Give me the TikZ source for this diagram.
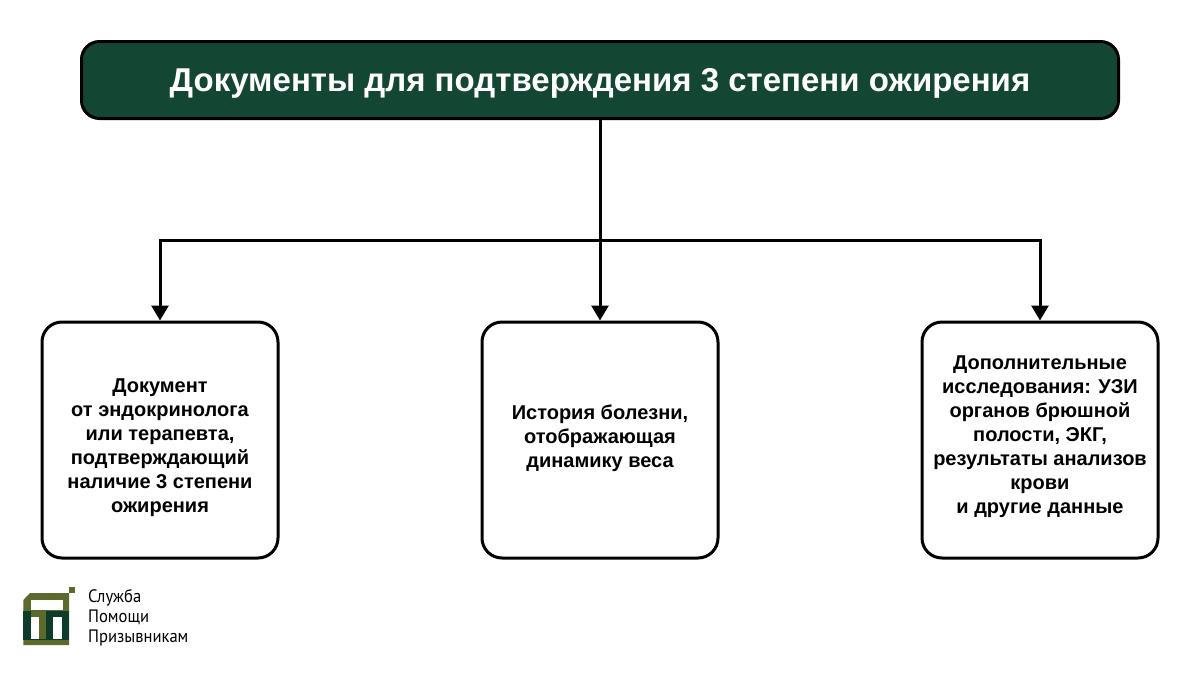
\documentclass[tikz,border=0pt]{standalone}
\usepackage{fontspec}
\setmainfont{Liberation Sans}
\newfontfamily\logofont[FakeStretch=0.92]{PT Sans}
\usetikzlibrary{arrows.meta}
\definecolor{titlegreen}{HTML}{134633}
\definecolor{logodark}{HTML}{0F3B2B}
\definecolor{logoolive}{HTML}{5A6B2C}
\tikzset{
  x=1pt,y=-1pt,
  titlebox/.style={draw=black,line width=3pt,fill=titlegreen,rounded corners=18pt,minimum width=1037pt,minimum height=77pt,inner sep=0pt},
  titletext/.style={inner sep=0pt,text=white,font=\fontsize{33}{38}\selectfont\bfseries},
  docbox/.style={draw=black,line width=3pt,fill=white,rounded corners=20pt,minimum width=236pt,minimum height=236pt,inner sep=0pt},
  doctext/.style={inner sep=0pt,align=center,font=\fontsize{20}{24}\selectfont\bfseries},
  conn/.style={line width=3pt,draw=black},
  arr/.style={conn,-{Triangle[length=15pt,width=17pt]}},
  logotext/.style={anchor=west,inner sep=0pt,font=\logofont\fontsize{18}{20}\selectfont,text=black}
}
\begin{document}
\begin{tikzpicture}
\useasboundingbox (0,0) rectangle (1200,675);
\node[titlebox] (title) at (600,80) {};
\node[titletext] (titlet) at (600,83) {Документы для подтверждения 3 степени ожирения};
\node[docbox] (left) at (160,440) {};
\node[docbox] (mid) at (600,440) {};
\node[docbox] (right) at (1040,440) {};
\node[doctext] (leftt) at (160,448) {Документ\\от эндокринолога\\или терапевта,\\подтверждающий\\наличие 3 степени\\ожирения};
\node[doctext] (midt) at (600,438) {История болезни,\\отображающая\\динамику веса};
\node[doctext] (rightt) at (1040,437) {Дополнительные\\исследования: УЗИ\\органов брюшной\\полости, ЭКГ,\\результаты анализов\\крови\\и другие данные};
\coordinate (bus) at (600,240);
\draw[arr] (title.south) -- (mid.north);
\draw[arr] (bus) -| (left.north);
\draw[arr] (bus) -| (right.north);
% logo
\fill[logoolive] (23.3,645) -- (23.3,600) -- (30,593) -- (69,593) -- (69,645) -- cycle;
\fill[logodark] (23.3,610.5) rectangle (69,640);
\fill[white] (30.7,599.5) rectangle (63.3,610);
\fill[logoolive] (30.7,610.5) rectangle (46,616.5);
\fill[logoolive] (39.3,616) rectangle (46,638.5);
\fill[white] (30.7,616.5) rectangle (39.3,638.5);
\fill[white] (52.7,616.5) rectangle (61.7,638.5);
\fill[logoolive] (68.7,587) rectangle (75,592.7);
\node[logotext] (l1) at (88,597.5) {Служба};
\node[logotext] (l2) at (88,617.5) {Помощи};
\node[logotext] (l3) at (88,637.5) {Призывникам};
\end{tikzpicture}
\end{document}
